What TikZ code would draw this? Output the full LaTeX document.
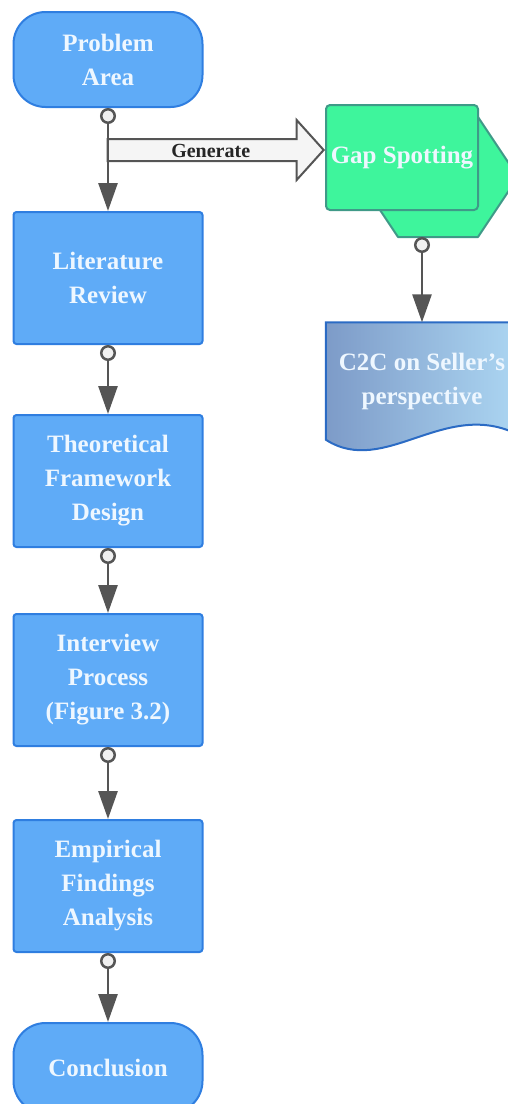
\documentclass[tikz,border=0pt]{standalone}
\usepackage{fontspec}
\setmainfont{Liberation Serif}
\usetikzlibrary{arrows.meta, positioning, shapes, backgrounds}

\definecolor{boxblue}{HTML}{5FABF7}
\definecolor{boxedge}{HTML}{2F7EE0}
\definecolor{gapgreen}{HTML}{3EF59C}
\definecolor{gapedge}{HTML}{3F9A88}
\definecolor{flowgray}{HTML}{555555}
\definecolor{docdark}{HTML}{7D9BC8}
\definecolor{doclight}{HTML}{ACD6F2}
\definecolor{docedge}{HTML}{2B6BC4}
\definecolor{labelwhite}{HTML}{EEF7FF}

\tikzset{
    boxtext/.style={font=\fontsize{25}{34}\selectfont\bfseries, text=labelwhite, align=center},
    process/.style={boxtext, draw=boxedge, fill=boxblue, line width=2pt, rounded corners=3pt, minimum width=189pt, minimum height=132pt},
    terminal/.style={process, rounded corners=32pt, minimum height=95pt},
    gapbox/.style={boxtext, draw=gapedge, fill=gapgreen, line width=2pt, rounded corners=4pt, minimum width=152pt, minimum height=105pt},
    gapshape/.style={draw=gapedge, fill=gapgreen, line width=2pt, line join=round},
    doctext/.style={boxtext, minimum width=192pt, minimum height=117pt},
    docshape/.style={draw=docedge, line width=2pt, left color=docdark, right color=doclight},
    flow/.style={draw=flowgray, line width=2.8pt, {Circle[length=16pt, fill=black!6, line width=2.5pt]}-{Triangle[length=28pt, width=19pt]}},
    genarrow/.style={single arrow, draw=flowgray, fill=black!4, line width=2pt,
        font=\fontsize{20}{24}\selectfont\bfseries, text=black!85,
        text height=14pt, text depth=0pt, inner xsep=0pt, inner ysep=3pt,
        minimum height=216pt, single arrow head extend=19pt, single arrow tip angle=96}
}

\begin{document}
\begin{tikzpicture}[x=1pt, y=1pt, node distance=69pt]
    \useasboundingbox (0,0) rectangle (507,-1104);

    % main column
    \node (problem) [terminal] at (108,-59.5) {Problem\\Area};
    \node (literature) [process, below=103pt of problem] {Literature\\Review};
    \node (theory) [process, below=of literature] {Theoretical\\Framework\\Design};
    \node (interview) [process, below=65pt of theory] {Interview\\Process\\(Figure 3.2)};
    \node (empirical) [process, below=72pt of interview] {Empirical\\Findings\\Analysis};
    \node (conclusion) [terminal, minimum height=90pt, below=of empirical] {Conclusion};

    % side branch
    \node (gap) [gapbox] at (402,-157.5) {Gap Spotting};
    \node (c2c) [doctext] at (422,-381) {C2C on Seller's\\perspective};
    \coordinate (gapbase) at (422,-237);
    \node (generate) [genarrow, anchor=tip] at ([yshift=7.5pt]gap.west) {Generate};

    \begin{scope}[on background layer]
        \draw[gapshape] ([shift={(-44,-19.5)}]gap.center) -- ([shift={(-4,40.5)}]gap.center)
            -- ([shift={(76,40.5)}]gap.center) -- ([shift={(116,-19.5)}]gap.center)
            -- ([shift={(76,-79.5)}]gap.center) -- ([shift={(-4,-79.5)}]gap.center) -- cycle;
        \draw[docshape] (c2c.south west) -- (c2c.north west) -- (c2c.north east)
            -- ([yshift=5pt]c2c.south east)
            .. controls ([shift={(-73,42)}]c2c.south east) and ([shift={(59,-38)}]c2c.south west) .. (c2c.south west) -- cycle;
    \end{scope}

    \draw[flow] (problem) -- (literature);
    \draw[flow] (literature) -- (theory);
    \draw[flow] (theory) -- (interview);
    \draw[flow] (interview) -- (empirical);
    \draw[flow] (empirical) -- (conclusion);
    \draw[flow] (gapbase) -- (c2c);
\end{tikzpicture}
\end{document}
